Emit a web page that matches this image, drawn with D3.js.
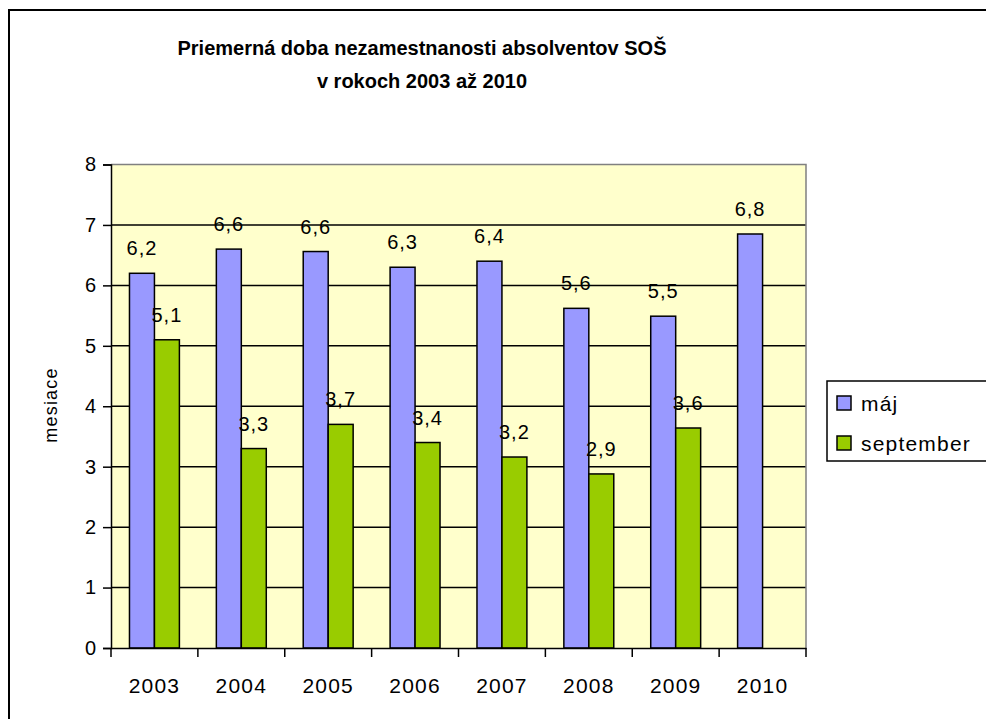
<!DOCTYPE html>
<html>
<head>
<meta charset="utf-8">
<script src="https://cdn.jsdelivr.net/npm/d3@7"></script>
<style>
  body { margin: 0; background: #fff; }
  text { font-family: "Liberation Sans", Arial, sans-serif; fill: #000; }
</style>
</head>
<body>
<svg id="chart" width="986" height="719"></svg>
<script>
// chart data
let years = ['2003', '2004', '2005', '2006', '2007', '2008', '2009', '2010'];
let majValues = [6.2, 6.6, 6.56, 6.3, 6.4, 5.62, 5.49, 6.85];
let septemberValues = [5.1, 3.3, 3.7, 3.4, 3.16, 2.88, 3.64, null];
let seriesNames = ['máj', 'september'];
let seriesColors = ['#9999FF', '#99CC00'];
let yTicks = [0, 1, 2, 3, 4, 5, 6, 7, 8];

let svg = d3.select('#chart');
let fontFamily = '"Liberation Sans", Arial, sans-serif';

// outer frame
svg.append('rect')
	.attr('x', 9).attr('y', 10)
	.attr('width', 990).attr('height', 720)
	.attr('fill', 'white')
	.attr('stroke', 'black')
	.attr('stroke-width', 2);

// title
let title = svg.append('text')
	.attr('text-anchor', 'middle')
	.attr('font-weight', 'bold')
	.attr('font-size', 20);
title.append('tspan').attr('x', 422).attr('y', 55).text('Priemerná doba nezamestnanosti absolventov SOŠ');
title.append('tspan').attr('x', 422).attr('y', 88).text('v rokoch 2003 až 2010');

let plotLeft = 111, plotRight = 806, plotTop = 164.5, plotBottom = 648;

let x = d3.scaleBand().domain(years).range([plotLeft, plotRight]).paddingInner(0).paddingOuter(0);
let xInner = d3.scaleBand().domain(seriesNames).range([0, x.bandwidth()]).paddingInner(0).paddingOuter(0.74);
let y = d3.scaleLinear().domain([0, 8]).range([plotBottom, plotTop]);

// plot area
svg.append('rect')
	.attr('x', plotLeft).attr('y', plotTop)
	.attr('width', plotRight - plotLeft).attr('height', plotBottom - plotTop)
	.attr('fill', '#FFFFCC');

// gridlines
svg.append('g').selectAll('line')
	.data(yTicks.filter(function (d) { return d > 0 && d < 8; }))
	.enter().append('line')
	.attr('x1', plotLeft).attr('x2', plotRight)
	.attr('y1', function (d) { return y(d); })
	.attr('y2', function (d) { return y(d); })
	.attr('stroke', 'black')
	.attr('stroke-width', 1.5);

// gray border top/right
svg.append('path')
	.attr('d', 'M' + plotLeft + ',' + y(8) + 'H' + plotRight + 'V' + plotBottom)
	.attr('fill', 'none')
	.attr('stroke', '#808080')
	.attr('stroke-width', 1.5);

// bars
let tableRows = [];
years.forEach(function (yr, i) {
	tableRows.push({year: yr, series: 'máj', value: majValues[i], color: seriesColors[0]});
	if (septemberValues[i] !== null) {
		tableRows.push({year: yr, series: 'september', value: septemberValues[i], color: seriesColors[1]});
	}
});

svg.append('g').selectAll('rect')
	.data(tableRows)
	.enter().append('rect')
	.attr('x', function (d) { return x(d.year) + xInner(d.series); })
	.attr('y', function (d) { return y(d.value); })
	.attr('width', xInner.bandwidth())
	.attr('height', function (d) { return y(0) - y(d.value); })
	.attr('fill', function (d) { return d.color; })
	.attr('stroke', 'black')
	.attr('stroke-width', 1.5);

// value labels
svg.append('g').selectAll('text')
	.data(tableRows)
	.enter().append('text')
	.attr('x', function (d) { return x(d.year) + xInner(d.series) + xInner.bandwidth() / 2; })
	.attr('y', function (d) { return y(d.value) - 18; })
	.attr('text-anchor', 'middle')
	.attr('font-size', 20)
	.attr('letter-spacing', 1)
	.text(function (d) { return d3.format('.1f')(d.value).replace('.', ','); });

// y axis
let yAxis = svg.append('g')
	.attr('transform', 'translate(' + plotLeft + ',0)')
	.call(d3.axisLeft(y).tickValues(yTicks).tickSize(8).tickPadding(7).tickFormat(d3.format('d')));
yAxis.select('.domain').attr('stroke', 'black').attr('stroke-width', 1.5);
yAxis.selectAll('.tick line').attr('stroke', 'black').attr('stroke-width', 1.5);
yAxis.selectAll('.tick text').attr('font-size', 20).attr('font-family', fontFamily);

// x axis
let xAxis = svg.append('g')
	.attr('transform', 'translate(0,' + plotBottom + ')')
	.call(d3.axisBottom(x).tickSize(0).tickPadding(30));
xAxis.select('.domain').attr('stroke', 'black').attr('stroke-width', 1.5);
xAxis.selectAll('.tick text').attr('font-size', 21).attr('letter-spacing', 1.2).attr('font-family', fontFamily);
// category boundary ticks
svg.append('g').selectAll('line')
	.data(years.concat(['end']))
	.enter().append('line')
	.attr('x1', function (d, i) { return i < years.length ? x(d) : plotRight; })
	.attr('x2', function (d, i) { return i < years.length ? x(d) : plotRight; })
	.attr('y1', plotBottom).attr('y2', plotBottom + 9)
	.attr('stroke', 'black')
	.attr('stroke-width', 1.5);

// y axis title
svg.append('text')
	.attr('transform', 'translate(57,405) rotate(-90)')
	.attr('text-anchor', 'middle')
	.attr('font-size', 18)
	.attr('letter-spacing', 1.2)
	.text('mesiace');

// legend
let legend = svg.append('g');
legend.append('rect')
	.attr('x', 827).attr('y', 381)
	.attr('width', 200).attr('height', 80)
	.attr('fill', 'white')
	.attr('stroke', 'black')
	.attr('stroke-width', 1.5);
seriesNames.forEach(function (name, i) {
	let ly = 396 + i * 40;
	legend.append('rect')
		.attr('x', 837).attr('y', ly)
		.attr('width', 14).attr('height', 14)
		.attr('fill', seriesColors[i])
		.attr('stroke', 'black')
		.attr('stroke-width', 1.5);
	legend.append('text')
		.attr('x', 861).attr('y', ly + 15)
		.attr('font-size', 21)
		.attr('letter-spacing', 1.2)
		.text(name);
});
</script>
</body>
</html>
